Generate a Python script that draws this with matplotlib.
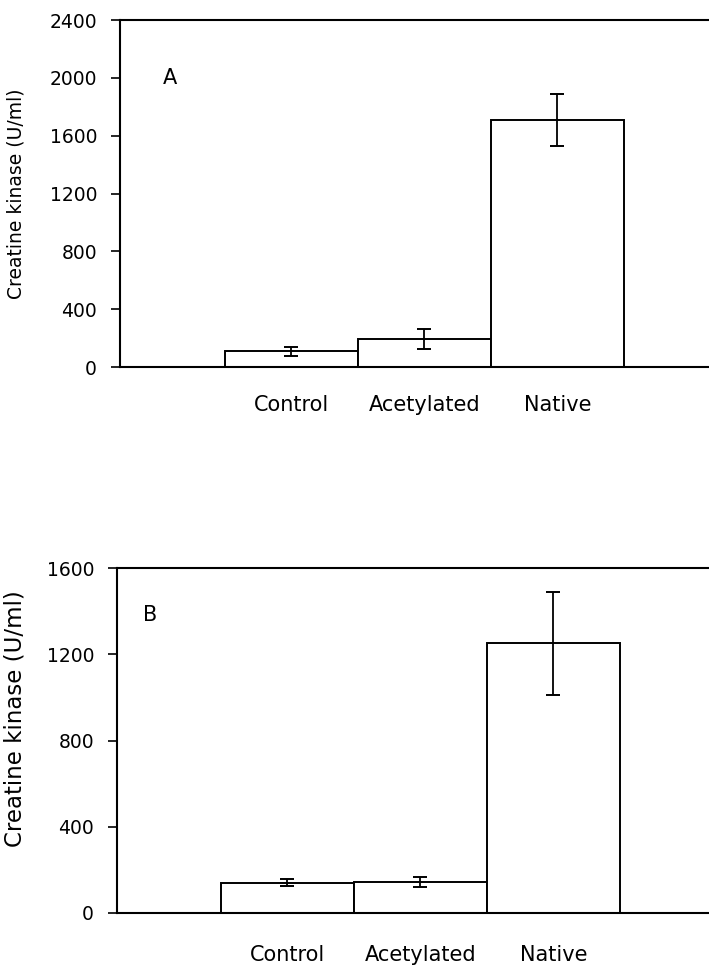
import numpy as np
import matplotlib
matplotlib.use('Agg')
import matplotlib.pyplot as plt

plt.rcParams['font.family'] = ['DejaVu Sans']

groups = ['Control', 'Acetylated', 'Native']

# panel A
ck_a = [108, 195, 1710]
err_a = [30, 70, 180]

# panel B
ck_b = [140, 145, 1250]
err_b = [16, 23, 240]

ylab = 'Creatine kinase (U/ml)'


def panel(ax, vals, errs, ymax, step, letter, letter_pos, lab_pad):
    x = np.arange(1, len(vals) + 1)
    ax.bar(x, vals, width=1.0, color='white', edgecolor='black', linewidth=1.4)
    ax.errorbar(x, vals, yerr=errs, fmt='none', ecolor='black',
                elinewidth=1.3, capsize=5, capthick=1.4)
    ax.set_ylim(0, ymax)
    ax.set_yticks(np.arange(0, ymax + 1, step))
    ax.set_xticks(x)
    ax.set_xticklabels(groups, fontsize=15)
    ax.tick_params(axis='x', length=0, pad=lab_pad)
    ax.tick_params(axis='y', direction='out', length=6.5, width=1.2, labelsize=13.5, pad=10)
    ax.spines['right'].set_visible(False)
    for s in ['left', 'top', 'bottom']:
        ax.spines[s].set_linewidth(1.5)
    ax.text(letter_pos[0], letter_pos[1], letter, transform=ax.transAxes,
            fontsize=15, ha='center', va='center')


fig = plt.figure(figsize=(7.09, 9.66), dpi=100)

ax1 = fig.add_axes([120 / 709, 1 - 367 / 966, 589 / 709, 347 / 966])
panel(ax1, ck_a, err_a, 2400, 400, 'A', (0.085, 0.833), 20)
ax1.set_xlim(-0.286, 4.14)

ax2 = fig.add_axes([117 / 709, 1 - 913 / 966, 592 / 709, 345 / 966])
panel(ax2, ck_b, err_b, 1600, 400, 'B', (0.056, 0.864), 23)
ax2.set_xlim(-0.28, 4.17)

fig.text(16 / 709, 1 - 194 / 966, ylab, rotation=90, ha='center', va='center', fontsize=13.5)
fig.text(15 / 709, 1 - 719 / 966, ylab, rotation=90, ha='center', va='center', fontsize=16.5)

fig.savefig('out.png', dpi=100)
